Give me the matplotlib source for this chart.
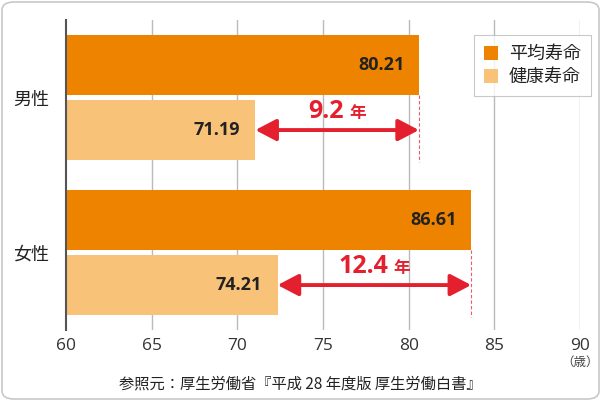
import matplotlib
matplotlib.use("Agg")
import matplotlib.pyplot as plt
from matplotlib.patches import FancyBboxPatch, Patch

plt.rcParams['font.family'] = ['Noto Sans CJK JP', 'DejaVu Sans']

# ---- data ----
categories = ['男性', '女性']
avg_life = [80.6, 83.65]          # bar lengths as drawn
healthy_life = [71.05, 72.35]     # bar lengths as drawn
avg_labels = ['80.21', '86.61']
healthy_labels = ['71.19', '74.21']
gap_labels = ['9.2', '12.4']
gap_unit = '年'
legend_labels = ['平均寿命', '健康寿命']
xticks = [60, 65, 70, 75, 80, 85, 90]
caption = '参照元：厚生労働省『平成 28 年度版 厚生労働白書』'
unit_label = '（歳）'

C_AVG = '#EE8300'
C_HEALTHY = '#F8C278'
C_RED = '#E5202E'
C_TEXT = '#222222'
NUMFONT = ['Open Sans', 'DejaVu Sans']

fig = plt.figure(figsize=(6.01, 4.01), dpi=100)
W, H = 601, 401

# rounded outer frame
frame = FancyBboxPatch((2 / W, 2 / H), (W - 4) / W, (H - 4) / H,
                       boxstyle='round,pad=0,rounding_size=0.02',
                       transform=fig.transFigure, facecolor='white',
                       edgecolor='#C8C8C8', linewidth=1.2, zorder=-10)
fig.patches.append(frame)

ax = fig.add_axes([66 / W, 1 - 330 / H, (580 - 66) / W, 310 / H])
ax.set_facecolor('none')

bar_h = 0.387
off = 0.21
ys = list(range(len(categories)))
y_avg = [y - off for y in ys]
y_hl = [y + off for y in ys]

ax.barh(y_avg, [a - 60 for a in avg_life], left=60, height=bar_h, color=C_AVG, zorder=3)
ax.barh(y_hl, [h - 60 for h in healthy_life], left=60, height=bar_h, color=C_HEALTHY, zorder=3)

ax.set_xlim(60, 90)
ax.set_ylim(1.5, -0.5)

for x in xticks[1:]:
    ax.axvline(x, color='#BBBBBB', lw=1.0, zorder=1)

for s in ['top', 'right', 'bottom']:
    ax.spines[s].set_visible(False)
ax.spines['left'].set_color('#555555')
ax.spines['left'].set_linewidth(1.5)
ax.spines['left'].set_zorder(4)

ax.set_xticks(xticks)
ax.set_xticklabels([str(t) for t in xticks], fontsize=12.5, color='#333333',
                   family=NUMFONT)
ax.tick_params(axis='x', length=0, pad=6)
ax.set_yticks(ys)
ax.set_yticklabels(categories, fontsize=13, color=C_TEXT)
ax.tick_params(axis='y', length=0, pad=12)

# value labels
for y, v, lab in zip(y_avg, avg_life, avg_labels):
    ax.annotate(lab, (v, y), xytext=(-10, 0), textcoords='offset points',
                ha='right', va='center', fontsize=13, fontweight='bold',
                color=C_TEXT, family=NUMFONT, zorder=5)
for y, v, lab in zip(y_hl, healthy_life, healthy_labels):
    ax.annotate(lab, (v, y), xytext=(-11, 0), textcoords='offset points',
                ha='right', va='center', fontsize=13, fontweight='bold',
                color=C_TEXT, family=NUMFONT, zorder=5)

# dashed guide lines and arrows
fig.canvas.draw()
renderer = fig.canvas.get_renderer()
for i in ys:
    a, h = avg_life[i], healthy_life[i]
    ax.plot([a, a], [y_avg[i] + bar_h / 2, y_hl[i] + bar_h / 2 + 0.01],
            color='#EE5A64', lw=0.8, ls=(0, (3, 2)), zorder=4)
    ax.annotate('', xy=(a, y_hl[i]), xytext=(h, y_hl[i]),
                arrowprops=dict(arrowstyle='<|-|>,head_length=0.42,head_width=0.22',
                                color=C_RED, lw=2.8, shrinkA=0, shrinkB=0,
                                mutation_scale=30),
                zorder=6)
    mid = (a + h) / 2
    t1 = ax.text(mid, y_hl[i] - 0.075, gap_labels[i], ha='center', va='baseline',
                 fontsize=18, fontweight='bold', color=C_RED,
                 family=NUMFONT, zorder=6)
    t2 = ax.text(mid, y_hl[i] - 0.075, gap_unit, ha='center', va='baseline',
                 fontsize=12, fontweight='bold', color=C_RED, zorder=6)
    w1 = t1.get_window_extent(renderer).width
    w2 = t2.get_window_extent(renderer).width
    gap = 5
    total = w1 + gap + w2
    xc_disp = ax.transData.transform((mid, 0))[0]
    left = xc_disp - total / 2
    inv = ax.transData.inverted()
    x1 = inv.transform((left, 0))[0]
    x2 = inv.transform((left + w1 + gap, 0))[0]
    t1.set_x(x1)
    t1.set_ha('left')
    t2.set_x(x2)
    t2.set_ha('left')

# legend
handles = [Patch(facecolor=C_AVG, edgecolor='none'),
           Patch(facecolor=C_HEALTHY, edgecolor='none')]
leg = fig.legend(handles, legend_labels, loc='upper right',
                 bbox_to_anchor=(591 / W, 1 - 35 / H),
                 fontsize=13, frameon=True, fancybox=False,
                 edgecolor='#BBBBBB', handlelength=0.8, handleheight=0.8,
                 handletextpad=0.6, labelspacing=0.3, borderpad=0.55,
                 borderaxespad=0)
leg.get_frame().set_linewidth(0.8)
for t in leg.get_texts():
    t.set_color(C_TEXT)

fig.text(580 / W, 1 - 362 / H, unit_label, ha='center', va='center',
         fontsize=9, color='#444444')
fig.text(300 / W, 1 - 384 / H, caption, ha='center', va='center',
         fontsize=11, color=C_TEXT)

fig.savefig('out.png', dpi=100)
